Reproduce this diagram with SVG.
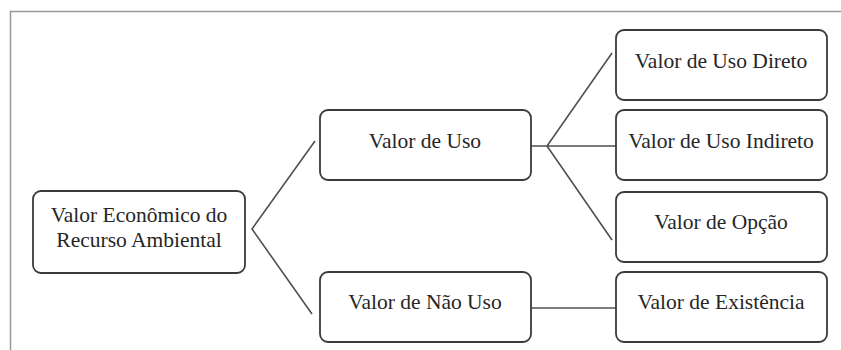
<svg xmlns="http://www.w3.org/2000/svg" width="841" height="350" viewBox="0 0 841 350">
<style>
.box{fill:#fff;stroke:#3a3a3a;stroke-width:1.8}
.t{font-family:'Liberation Serif','Times New Roman','DejaVu Serif',serif;font-size:21.5px;fill:#262626;text-anchor:middle}
.c{stroke:#505050;stroke-width:1.6;fill:none}
</style>
<rect width="841" height="350" fill="#fff"/>
<path d="M10.5 350 V11.5 H841" fill="none" stroke="#999" stroke-width="1.5"/>
<g id="connectors">
<path class="c" d="M315 141 L252 229 L312 314"/>
<path class="c" d="M531 146 H616 M612 53 L547 146 L612 240"/>
<path class="c" d="M531 308 H616"/>
</g>
<g id="n-root"><rect class="box" x="33" y="191" width="212" height="82" rx="8"/><text class="t" x="139" y="222">Valor Econômico do</text><text class="t" x="139" y="247">Recurso Ambiental</text></g>
<g id="n-uso"><rect class="box" x="320" y="110" width="211" height="70" rx="8"/><text class="t" x="425" y="148">Valor de Uso</text></g>
<g id="n-naouso"><rect class="box" x="320" y="272" width="211" height="70" rx="8"/><text class="t" x="425" y="309">Valor de Não Uso</text></g>
<g id="n-direto"><rect class="box" x="616" y="30" width="211" height="70" rx="8"/><text class="t" x="721" y="68">Valor de Uso Direto</text></g>
<g id="n-indireto"><rect class="box" x="616" y="110" width="211" height="70" rx="8"/><text class="t" x="721" y="148">Valor de Uso Indireto</text></g>
<g id="n-opcao"><rect class="box" x="616" y="192" width="211" height="70" rx="8"/><text class="t" x="721" y="229">Valor de Opção</text></g>
<g id="n-existencia"><rect class="box" x="616" y="272" width="211" height="70" rx="8"/><text class="t" x="721" y="309">Valor de Existência</text></g>
</svg>
